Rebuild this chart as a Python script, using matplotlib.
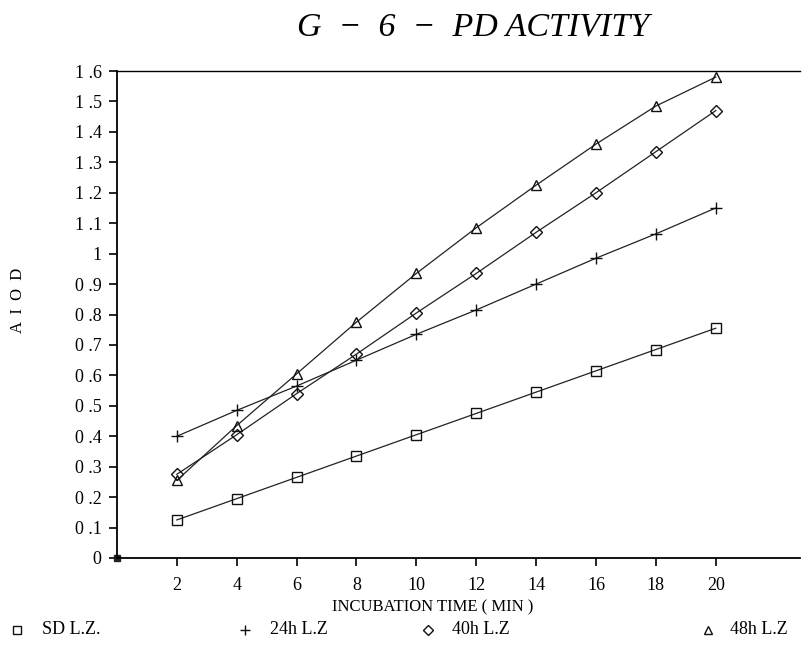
import matplotlib.pyplot as plt
from matplotlib.lines import Line2D
import numpy as np

tiempo = [2, 4, 6, 8, 10, 12, 14, 16, 18, 20]
sd_lz = [0.125, 0.195, 0.265, 0.335, 0.405, 0.475, 0.545, 0.615, 0.685, 0.755]
lz_24 = [0.40, 0.485, 0.565, 0.65, 0.735, 0.815, 0.90, 0.985, 1.065, 1.15]
lz_40 = [0.275, 0.405, 0.54, 0.67, 0.805, 0.935, 1.07, 1.20, 1.335, 1.47]
lz_48 = [0.255, 0.435, 0.605, 0.775, 0.935, 1.085, 1.225, 1.36, 1.485, 1.58]

etiquetas = ['SD L.Z.', '24h L.Z', '40h L.Z', '48h L.Z']
marcadores = ['s', '+', 'D', '^']
series = [sd_lz, lz_24, lz_40, lz_48]

plt.rcParams['font.family'] = ['Liberation Serif', 'DejaVu Serif']

fig = plt.figure(figsize=(8.05, 6.48), dpi=100)
ax = fig.add_axes([0.1453, 0.1389, 0.848, 0.7515])

tamanos = [7, 8, 6, 7]
for i in range(len(series)):
    ax.plot(tiempo, series[i], marker=marcadores[i], color='#222222', lw=0.9,
            ms=tamanos[i], mfc='none', mec='#111111', mew=1.0)
ax.plot([0], [0], marker='s', color='#222222', ms=5, clip_on=False)

ax.set_xlim(0, 22.8)
ax.set_ylim(0, 1.6)
ax.set_xticks(tiempo)
yt = np.round(np.arange(0, 1.61, 0.1), 1)
ax.set_yticks(yt)
ax.set_yticklabels(['0' if v == 0 else ('1' if v == 1 else '%d .%d' % (int(v), round(v * 10) % 10)) for v in yt])
ax.tick_params(axis='both', direction='out', length=6, width=1.2, labelsize=13)
ax.tick_params(axis='y', pad=5)
ax.tick_params(axis='x', pad=8)
ax.spines['right'].set_visible(False)
for s in ['left', 'bottom']:
    ax.spines[s].set_linewidth(1.3)
ax.spines['top'].set_linewidth(1.0)

fig.text(0.588, 0.958, 'G  \u2212  6  \u2212  PD ACTIVITY', ha='center', va='center',
         fontsize=24.5, style='italic')
fig.text(0.537, 0.063, 'INCUBATION TIME ( MIN )', ha='center', va='center', fontsize=12)
fig.text(0.022, 0.537, 'A  I  O  D', ha='center', va='center', rotation=90, fontsize=12)

# leyenda manual abajo
pos_marc = [17, 245, 428, 708]
pos_txt = [42, 270, 452, 730]
y_ley = 1 - 630 / 648
for i in range(4):
    fig.add_artist(Line2D([pos_marc[i] / 805], [y_ley], marker=marcadores[i], ms=tamanos[i] - 1,
                          mfc='none', mec='#111111', mew=1.0, color='#111111',
                          transform=fig.transFigure))
    fig.text(pos_txt[i] / 805, y_ley, etiquetas[i], ha='left', va='center', fontsize=13)

plt.savefig('out.png')
